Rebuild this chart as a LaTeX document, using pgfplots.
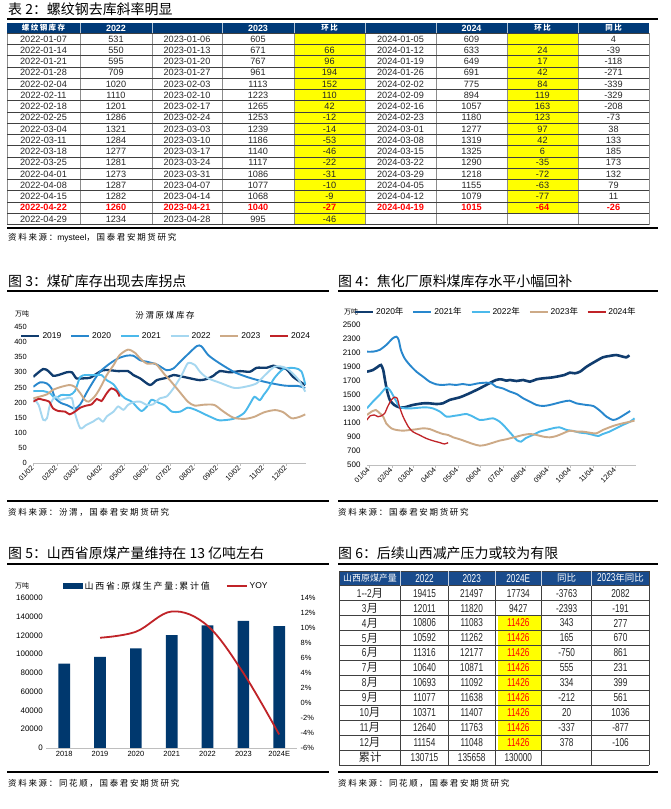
\documentclass[border=0pt]{standalone}
\usepackage{pgfplots}
\pgfplotsset{compat=1.18}
\usepackage{fontspec}
\setmainfont{Liberation Sans}
\newfontfamily\cjk{Noto Sans CJK SC}
\newfontfamily\cjksp[LetterSpace=20]{Noto Sans CJK SC}
\newfontfamily\narrow[FakeStretch=0.72]{Liberation Sans}
\definecolor{cA}{RGB}{16,60,110}
\definecolor{cB}{RGB}{40,135,205}
\definecolor{cC}{RGB}{75,185,235}
\definecolor{cD}{RGB}{165,215,240}
\definecolor{cE}{RGB}{205,170,135}
\definecolor{cF}{RGB}{192,35,40}
\definecolor{hdrA}{RGB}{0,58,120}
\definecolor{hdrB}{RGB}{25,75,140}
\definecolor{barC}{RGB}{0,56,110}
\definecolor{axg}{RGB}{190,190,190}
\definecolor{ylw}{RGB}{255,255,0}
\pgfplotsset{/pgf/number format/.cd,1000 sep={},assume math mode=true}
\begin{document}
\begin{tikzpicture}[x=1bp,y=1bp]
\useasboundingbox (0,0) rectangle (671,809);
\fill[white] (0,0) rectangle (671,809);

%================ TABLE 2 =================
\node[anchor=west,font=\cjk\fontsize{14}{16}\selectfont,inner sep=0] at (8,800) {表 2：螺纹钢去库斜率明显};
\draw[black,line width=1.2bp] (7,790) -- (658,790);
\fill[hdrA] (7,775.7) rectangle (649,786.3);
\fill[ylw] (294,584.45) rectangle (365,775.7);
\fill[ylw] (507,595.7) rectangle (578,775.7);
\foreach \xx in {7,80,152,222,294,365,436,507,578,649}
  \draw[black!45,line width=0.9bp] (\xx,584.45) -- (\xx,775.7);
\foreach \k in {0,...,17}
  \draw[black!75,line width=0.6bp] (7,775.7-11.25*\k) -- (649,775.7-11.25*\k);
\foreach \xx in {80,152,222,294,365,436,507,578}
  \draw[white!70!hdrA,line width=0.6bp] (\xx,775.7) -- (\xx,786.3);
\begin{scope}[every node/.style={text=white,inner sep=0}]
\node[font=\cjksp\bfseries\fontsize{7.5}{8}\selectfont] at (43.5,781) {螺纹钢库存};
\node[font=\bfseries\fontsize{9}{10}\selectfont] at (116,781) {2022};
\node[font=\bfseries\fontsize{9}{10}\selectfont] at (258,781) {2023};
\node[font=\cjksp\bfseries\fontsize{7.5}{8}\selectfont] at (329.5,781) {环比};
\node[font=\bfseries\fontsize{9}{10}\selectfont] at (471.5,781) {2024};
\node[font=\cjksp\bfseries\fontsize{7.5}{8}\selectfont] at (542.5,781) {环比};
\node[font=\cjksp\bfseries\fontsize{7.5}{8}\selectfont] at (613.5,781) {同比};
\end{scope}
\foreach \va/\vb/\vc/\vd/\ve/\vf/\vg/\vh/\vi [count=\r from 0] in {
2022-01-07/531/2023-01-06/605//2024-01-05/609//4,
2022-01-14/550/2023-01-13/671/66/2024-01-12/633/24/-39,
2022-01-21/595/2023-01-20/767/96/2024-01-19/649/17/-118,
2022-01-28/709/2023-01-27/961/194/2024-01-26/691/42/-271,
2022-02-04/1020/2023-02-03/1113/152/2024-02-02/775/84/-339,
2022-02-11/1110/2023-02-10/1223/110/2024-02-09/894/119/-329,
2022-02-18/1201/2023-02-17/1265/42/2024-02-16/1057/163/-208,
2022-02-25/1286/2023-02-24/1253/-12/2024-02-23/1180/123/-73,
2022-03-04/1321/2023-03-03/1239/-14/2024-03-01/1277/97/38,
2022-03-11/1284/2023-03-10/1186/-53/2024-03-08/1319/42/133,
2022-03-18/1277/2023-03-17/1140/-46/2024-03-15/1325/6/185,
2022-03-25/1281/2023-03-24/1117/-22/2024-03-22/1290/-35/173,
2022-04-01/1273/2023-03-31/1086/-31/2024-03-29/1218/-72/132,
2022-04-08/1287/2023-04-07/1077/-10/2024-04-05/1155/-63/79,
2022-04-15/1282/2023-04-14/1068/-9/2024-04-12/1079/-77/11,
2022-04-22/1260/2023-04-21/1040/-27/2024-04-19/1015/-64/-26,
2022-04-29/1234/2023-04-28/995/-46////}
{
 \pgfmathsetmacro{\yy}{770.075-11.25*\r}
 \ifnum\r=15 \def\tc{red}\def\tb{\bfseries}\else\def\tc{black!85}\def\tb{}\fi
 \begin{scope}[every node/.style={text=\tc,inner sep=0,font=\fontsize{9.2}{10}\selectfont\tb}]
 \node at (43.5,\yy) {\va};
 \node at (116,\yy) {\vb};
 \node at (187,\yy) {\vc};
 \node at (258,\yy) {\vd};
 \node at (329.5,\yy) {\ve};
 \node at (400.5,\yy) {\vf};
 \node at (471.5,\yy) {\vg};
 \node at (542.5,\yy) {\vh};
 \node at (613.5,\yy) {\vi};
 \end{scope}
}
\draw[black,line width=1.2bp] (7,581) -- (658,581);
\node[anchor=west,font=\fontsize{8.5}{10}\selectfont,inner sep=0] at (8,571) {{\cjksp 资料来源：}mysteel{\cjksp ，国泰君安期货研究}};

%================ FIG 3 =================
\node[anchor=west,font=\cjk\fontsize{14}{16}\selectfont,inner sep=0] at (8,528) {图 3：煤矿库存出现去库拐点};
\draw[black,line width=1.2bp] (7,518) -- (329,518);
\node[font=\cjk\fontsize{7}{8}\selectfont,inner sep=0] at (22,495) {万吨};
\node[font=\cjksp\fontsize{8.5}{10}\selectfont,inner sep=0] at (165,494) {汾渭原煤库存};
\draw[black,line width=1.2bp] (7,308) -- (329,308);
\node[anchor=west,font=\cjksp\fontsize{8.5}{10}\selectfont,inner sep=0] at (8,297) {资料来源：汾渭，国泰君安期货研究};

\begin{axis}[at={(33.3bp,346bp)},anchor=south west,scale only axis,
 width=272.7bp,height=136bp,xmin=2,xmax=362,ymin=0,ymax=450,
 ytick={0,50,...,450},
 xtick={2,33,61,92,122,153,183,214,245,275,306,336},
 xticklabels={01/02,02/02,03/02,04/02,05/02,06/02,07/02,08/02,09/02,10/02,11/02,12/02},
 axis x line*=bottom,axis y line*=left,
 y axis line style={draw=none},ytick style={draw=none},
 x axis line style={axg},xtick style={axg},tick align=outside,major tick length=3bp,
 xticklabel style={rotate=45,anchor=east,font=\fontsize{7.2}{8}\selectfont,inner sep=1bp},
 yticklabel style={font=\fontsize{7.5}{8}\selectfont},
 legend columns=-1,
 legend style={at={(0.487,0.934)},anchor=center,draw=none,fill=none,
   font=\fontsize{8.5}{9}\selectfont,inner sep=0pt,
   /tikz/every even column/.append style={column sep=7bp}},
 legend image code/.code={\draw[#1] (0bp,0bp)--(18bp,0bp);},
 every axis plot/.append style={smooth,tension=0.45,line width=1.9bp}]
\addplot[cA,line width=2.3bp] coordinates {(2,285)(15,311)(22,304)(28,289)(35,291)(46,300)(53,300)(59,280)(68,280)(77,282)(86,296)(94,307)(103,307)(114,304)(127,304)(134,291)(143,280)(156,258)(165,274)(178,282)(187,291)(200,285)(213,278)(222,274)(231,278)(240,289)(248,304)(262,300)(275,304)(288,302)(297,315)(310,315)(319,322)(328,313)(336,311)(345,285)(354,269)(361,258)};
\addlegendentry{2019}
\addplot[cB] coordinates {(2,252)(11,267)(20,263)(26,247)(31,214)(39,198)(46,192)(53,183)(57,179)(64,194)(72,231)(81,269)(90,302)(103,329)(114,346)(125,355)(134,355)(143,340)(152,335)(165,326)(178,307)(187,313)(196,335)(207,362)(218,387)(224,386)(233,357)(246,333)(268,300)(290,280)(312,266)(334,256)(351,255)(361,248)};
\addlegendentry{2020}
\addplot[cC] coordinates {(2,238)(15,238)(24,231)(31,214)(39,225)(50,225)(57,238)(64,285)(72,291)(86,291)(92,291)(99,274)(108,260)(116,231)(123,214)(132,203)(138,187)(145,172)(152,187)(158,209)(167,200)(176,190)(185,170)(196,170)(206,183)(217,175)(226,164)(240,148)(248,141)(266,146)(280,165)(289,200)(294,219)(301,208)(306,225)(312,245)(320,280)(332,311)(347,314)(356,303)(361,260)};
\addlegendentry{2021}
\addplot[cD] coordinates {(2,214)(9,192)(15,143)(20,148)(24,192)(31,220)(37,209)(46,214)(53,214)(57,165)(64,115)(72,126)(81,137)(88,148)(94,137)(99,154)(108,170)(114,187)(121,176)(127,192)(134,201)(143,203)(152,192)(160,194)(169,214)(178,220)(187,247)(198,291)(206,330)(215,325)(222,302)(232,281)(250,264)(268,248)(285,254)(297,264)(308,291)(321,319)(336,314)(352,276)(361,236)};
\addlegendentry{2022}
\addplot[cE] coordinates {(2,214)(11,220)(20,227)(28,242)(39,252)(50,258)(57,252)(64,231)(70,209)(75,203)(83,220)(90,247)(99,291)(108,324)(116,357)(127,375)(136,365)(143,346)(152,329)(163,329)(169,313)(176,291)(183,272)(193,242)(206,203)(215,190)(228,193)(241,192)(252,172)(266,150)(281,146)(294,153)(307,168)(321,175)(332,168)(343,148)(354,153)(361,161)};
\addlegendentry{2023}
\addplot[cF] coordinates {(2,203)(9,212)(15,209)(23,203)(28,181)(35,172)(44,170)(50,161)(57,170)(64,183)(72,190)(79,194)(86,212)(92,205)(99,231)(105,247)(112,238)(116,220)};
\addlegendentry{2024}
\end{axis}

%================ FIG 4 =================
\node[anchor=west,font=\cjk\fontsize{14}{16}\selectfont,inner sep=0] at (338,528) {图 4：焦化厂原料煤库存水平小幅回补};
\draw[black,line width=1.2bp] (338,518) -- (658,518);
\node[font=\cjk\fontsize{7}{8}\selectfont,inner sep=0] at (351,497) {万吨};
\draw[black,line width=1.2bp] (338,308) -- (658,308);
\node[anchor=west,font=\cjksp\fontsize{8.5}{10}\selectfont,inner sep=0] at (338,297) {资料来源：国泰君安期货研究};

\begin{axis}[at={(367bp,344bp)},anchor=south west,scale only axis,
 width=269bp,height=140bp,xmin=1,xmax=366,ymin=500,ymax=2500,
 ytick={500,700,...,2500},
 xtick={4,35,63,94,124,155,185,216,247,277,308,338},
 xticklabels={01/04,02/04,03/04,04/04,05/04,06/04,07/04,08/04,09/04,10/04,11/04,12/04},
 axis x line*=bottom,axis y line*=left,
 y axis line style={draw=none},ytick style={draw=none},
 x axis line style={axg},xtick style={axg},tick align=outside,major tick length=3bp,
 xticklabel style={rotate=45,anchor=east,font=\fontsize{7.2}{8}\selectfont,inner sep=1bp},
 yticklabel style={font=\fontsize{8}{9}\selectfont},
 legend columns=-1,
 legend style={at={(0.478,1.093)},anchor=center,draw=none,fill=none,
   font=\fontsize{8.5}{9}\selectfont,inner sep=0pt,
   /tikz/every even column/.append style={column sep=7bp}},
 legend image code/.code={\draw[#1] (0bp,0bp)--(18bp,0bp);},
 every axis plot/.append style={smooth,tension=0.45,line width=1.9bp}]
\addplot[cA,line width=2.6bp] coordinates {(1,1833)(9,1857)(16,1905)(20,1929)(23,1857)(25,1738)(28,1571)(32,1429)(38,1357)(45,1324)(52,1324)(63,1357)(77,1381)(86,1381)(95,1371)(104,1381)(113,1429)(127,1467)(140,1524)(154,1595)(167,1667)(176,1714)(183,1724)(190,1705)(195,1714)(204,1700)(213,1714)(222,1690)(231,1724)(240,1738)(253,1752)(269,1786)(276,1819)(283,1810)(290,1833)(299,1905)(308,1962)(321,2038)(330,2057)(339,2071)(348,2048)(353,2038)(357,2067)};
\addlegendentry{2020{\cjk 年}}
\addplot[cB] coordinates {(1,2119)(9,2119)(18,2143)(27,2214)(36,2310)(41,2333)(44,2286)(47,2143)(52,2024)(59,1929)(68,1833)(77,1762)(86,1690)(95,1652)(104,1643)(113,1652)(122,1643)(131,1657)(140,1643)(152,1667)(163,1676)(170,1667)(176,1619)(185,1595)(195,1548)(204,1514)(213,1452)(222,1405)(231,1357)(240,1343)(249,1357)(258,1381)(267,1405)(276,1419)(285,1381)(299,1357)(308,1343)(317,1276)(326,1190)(335,1143)(342,1167)(351,1224)(358,1271)};
\addlegendentry{2021{\cjk 年}}
\addplot[cC] coordinates {(1,1310)(9,1405)(18,1500)(27,1605)(32,1571)(36,1500)(41,1405)(45,1333)(52,1310)(63,1310)(72,1319)(81,1324)(90,1310)(100,1262)(109,1190)(118,1200)(127,1214)(136,1229)(145,1190)(154,1143)(163,1152)(172,1167)(181,1119)(188,1048)(192,1000)(198,930)(204,857)(210,833)(216,881)(226,929)(235,976)(244,1000)(253,1024)(262,1038)(272,1000)(281,986)(290,962)(299,952)(308,929)(315,914)(321,943)(330,976)(339,1024)(348,1071)(358,1119)(364,1167)};
\addlegendentry{2022{\cjk 年}}
\addplot[cE] coordinates {(1,1214)(7,1262)(13,1286)(16,1262)(23,1190)(27,1095)(34,1024)(41,1000)(50,990)(59,1000)(68,1010)(77,1024)(86,1014)(95,976)(104,943)(111,929)(118,895)(127,867)(136,833)(145,800)(154,776)(163,790)(172,819)(181,848)(190,867)(195,881)(204,905)(213,929)(222,943)(231,929)(240,905)(249,895)(258,914)(267,952)(276,990)(285,976)(294,976)(303,962)(312,952)(321,1000)(330,1038)(339,1071)(348,1095)(358,1119)(364,1133)};
\addlegendentry{2023{\cjk 年}}
\addplot[cF,line width=1.3bp] coordinates {(1,1143)(5,1200)(11,1214)(16,1190)(20,1200)(25,1238)(29,1333)(34,1429)(38,1467)(42,1452)(45,1333)(50,1190)(57,1048)(63,976)(72,929)(81,881)(90,848)(100,819)(106,800)(111,819)};
\addlegendentry{2024{\cjk 年}}
\end{axis}

%================ FIG 5 =================
\node[anchor=west,font=\cjk\fontsize{14}{16}\selectfont,inner sep=0] at (8,256) {图 5：山西省原煤产量维持在 13 亿吨左右};
\draw[black,line width=1.2bp] (7,245) -- (329,245);
\node[font=\cjk\fontsize{7}{8}\selectfont,inner sep=0] at (22,223) {万吨};
\draw[black,line width=1.2bp] (7,37) -- (329,37);
\node[anchor=west,font=\cjksp\fontsize{8.5}{10}\selectfont,inner sep=0] at (8,26) {资料来源：同花顺，国泰君安期货研究};

\begin{axis}[at={(46.3bp,61bp)},anchor=south west,scale only axis,
 width=250.8bp,height=150bp,xmin=-0.5,xmax=6.5,ymin=0,ymax=160000,
 ytick={0,20000,40000,60000,80000,100000,120000,140000,160000},scaled y ticks=false,
 yticklabels={0,20000,40000,60000,80000,100000,120000,140000,160000},
 xtick={0,...,6},xticklabels={2018,2019,2020,2021,2022,2023,2024E},
 axis x line*=bottom,axis y line*=left,
 y axis line style={draw=none},ytick style={draw=none},xtick style={draw=none},
 x axis line style={axg},
 xticklabel style={font=\fontsize{7.5}{8}\selectfont},
 yticklabel style={font=\fontsize{8}{9}\selectfont}]
\addplot[ybar,bar width=11.7bp,fill=barC,draw=none] coordinates {(0,90000)(1,97100)(2,106300)(3,120300)(4,130715)(5,135658)(6,130000)};
\end{axis}
\begin{axis}[at={(46.3bp,61bp)},anchor=south west,scale only axis,
 width=250.8bp,height=150bp,xmin=-0.5,xmax=6.5,ymin=-6,ymax=14,
 ytick={-6,-4,...,14},axis x line=none,axis y line*=right,
 y axis line style={draw=none},ytick style={draw=none},
 yticklabels={-6\%,-4\%,-2\%,0\%,2\%,4\%,6\%,8\%,10\%,12\%,14\%},
 yticklabel style={font=\fontsize{7.5}{8}\selectfont},
 legend columns=-1,
 legend style={at={(0.479,1.08)},anchor=center,draw=none,fill=none,
   font=\fontsize{8.5}{10}\selectfont,inner sep=0pt,
   /tikz/every even column/.append style={column sep=14bp}},
 legend image code/.code={\draw[#1] (0bp,0bp)--(20bp,0bp);}]
\addlegendimage{legend image code/.code={\fill[barC] (0bp,-2.5bp) rectangle (19bp,2.5bp);}}
\addlegendentry{\cjksp\fontsize{9}{10}\selectfont 山西省:原煤生产量:累计值}
\addplot[cF,line width=1.8bp,smooth,tension=0.6] coordinates {(1,8.7)(2,9.5)(3,12.2)(4,10.3)(5,4.0)(6,-4.2)};
\addlegendentry{YOY}
\end{axis}

%================ FIG 6 (table) =================
\node[anchor=west,font=\cjk\fontsize{14}{16}\selectfont,inner sep=0] at (338,256) {图 6：后续山西减产压力或较为有限};
\draw[black,line width=1.2bp] (338,245) -- (658,245);
\fill[hdrB] (339.3,223.3) rectangle (649.3,238);
\fill[ylw] (497.5,58.96) rectangle (541.2,193.42);
\foreach \k in {0,...,12}
  \draw[black!75,line width=0.6bp] (339.3,223.3-14.94*\k) -- (649.3,223.3-14.94*\k);
\draw[black!75,line width=0.6bp] (339.3,238) -- (649.3,238);
\foreach \xx in {339.3,400.7,448.3,495,541.7,591.7,649.3}
  \draw[black!75,line width=0.6bp] (\xx,44.02) -- (\xx,223.3);
\foreach \xx in {400.7,448.3,495,541.7,591.7}
  \draw[white!75!hdrB,line width=0.6bp] (\xx,223.3) -- (\xx,238);
\draw[black!75,line width=0.6bp] (339.3,223.3) -- (339.3,238) (649.3,223.3) -- (649.3,238);
\begin{scope}[every node/.style={text=white,inner sep=0}]
\node[font=\cjk\fontsize{9}{10}\selectfont] at (370,230.65) {山西原煤产量};
\node[font=\narrow\fontsize{11.5}{12}\selectfont] at (424.5,230.65) {2022};
\node[font=\narrow\fontsize{11.5}{12}\selectfont] at (471.7,230.65) {2023};
\node[font=\narrow\fontsize{11.5}{12}\selectfont] at (518.3,230.65) {2024E};
\node[font=\cjk\fontsize{9.5}{10}\selectfont] at (566.7,230.65) {同比};
\node[font=\narrow\fontsize{11.5}{12}\selectfont] at (620.5,230.65) {2023{\cjk\fontsize{9.5}{10}\selectfont 年同比}};
\end{scope}
\foreach \va/\vb/\vc/\vd/\ve/\vf [count=\r from 0] in {
1-{}-2{\cjk 月}/19415/21497/17734/-3763/2082,
3{\cjk 月}/12011/11820/9427/-2393/-191,
4{\cjk 月}/10806/11083/11426/343/277,
5{\cjk 月}/10592/11262/11426/165/670,
6{\cjk 月}/11316/12177/11426/-750/861,
7{\cjk 月}/10640/10871/11426/555/231,
8{\cjk 月}/10693/11092/11426/334/399,
9{\cjk 月}/11077/11638/11426/-212/561,
10{\cjk 月}/10371/11407/11426/20/1036,
11{\cjk 月}/12640/11763/11426/-337/-877,
12{\cjk 月}/11154/11048/11426/378/-106,
{\cjk 累计}/130715/135658/130000//}
{
 \pgfmathsetmacro{\yy}{215.83-14.94*\r}
 \ifnum\r>1 \ifnum\r<11 \def\tc{red}\else\def\tc{black!85}\fi\else\def\tc{black!85}\fi
 \begin{scope}[every node/.style={text=black!85,inner sep=0,font=\narrow\fontsize{11.5}{12}\selectfont}]
 \node at (370,\yy) {\va};
 \node at (424.5,\yy) {\vb};
 \node at (471.7,\yy) {\vc};
 \node[text=\tc] at (518.3,\yy) {\vd};
 \node at (566.7,\yy) {\ve};
 \node at (620.5,\yy) {\vf};
 \end{scope}
}
\draw[black,line width=1.2bp] (338,37) -- (658,37);
\node[anchor=west,font=\cjksp\fontsize{8.5}{10}\selectfont,inner sep=0] at (338,26) {资料来源：同花顺，国泰君安期货研究};
\end{tikzpicture}
\end{document}
